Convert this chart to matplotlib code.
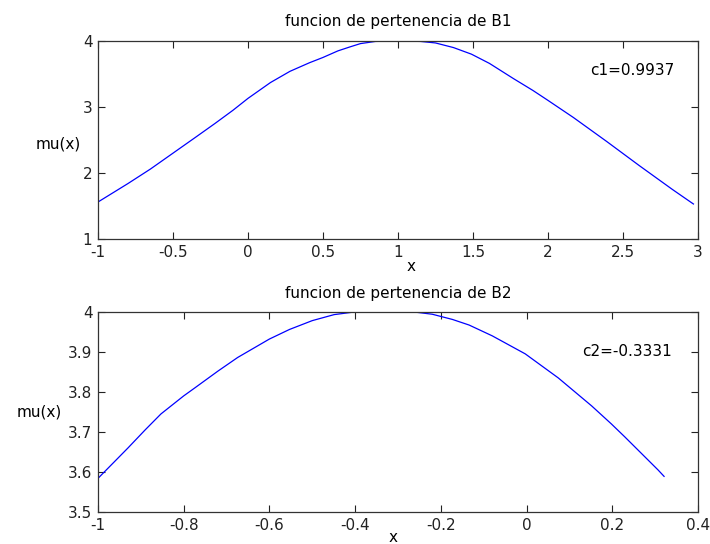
import matplotlib
matplotlib.use('Agg')
import matplotlib.pyplot as plt

# datos (funcion de pertenencia B1)
x1 = [-1.0, -0.8, -0.65, -0.5, -0.35, -0.22, -0.1, 0.0, 0.15, 0.28, 0.41, 0.5, 0.6, 0.68,
      0.75, 0.85, 1.0, 1.15, 1.25, 1.37, 1.49, 1.61, 1.77, 1.9, 2.0, 2.17, 2.39, 2.61, 2.83, 2.97]
mu1 = [1.56, 1.84, 2.06, 2.30, 2.54, 2.75, 2.95, 3.13, 3.37, 3.54, 3.67, 3.75, 3.85, 3.91,
       3.96, 3.993, 4.0, 3.993, 3.97, 3.90, 3.80, 3.66, 3.43, 3.25, 3.10, 2.84, 2.48, 2.11, 1.75, 1.53]

# funcion de pertenencia B2
x2 = [-1.0, -0.953, -0.93, -0.89, -0.853, -0.8, -0.774, -0.72, -0.674, -0.6, -0.553, -0.5,
      -0.449, -0.406, -0.33, -0.258, -0.22, -0.173, -0.134, -0.08, -0.003, 0.074, 0.152,
      0.198, 0.229, 0.276, 0.307, 0.321]
mu2 = [3.584, 3.635, 3.66, 3.705, 3.745, 3.79, 3.81, 3.852, 3.886, 3.932, 3.956, 3.978,
       3.993, 3.999, 4.0, 3.999, 3.994, 3.981, 3.967, 3.94, 3.895, 3.835, 3.765,
       3.72, 3.688, 3.638, 3.605, 3.589]

c1 = 0.9937
c2 = -0.3331

xticks1 = [-1, -0.5, 0, 0.5, 1, 1.5, 2, 2.5, 3]
yticks1 = [1, 2, 3, 4]
xticks2 = [-1, -0.8, -0.6, -0.4, -0.2, 0, 0.2, 0.4]
yticks2 = [3.5, 3.6, 3.7, 3.8, 3.9, 4]

plt.rcParams['font.family'] = ['DejaVu Sans']
fs = 11

fig = plt.figure(figsize=(7.1, 5.44), dpi=100)
ax1 = fig.add_axes([0.138, 0.5607, 0.845, 0.364])
ax2 = fig.add_axes([0.138, 0.0588, 0.845, 0.368])


def estilo(ax, xt, yt, xlim, ylim):
    ax.set_xlim(*xlim)
    ax.set_ylim(*ylim)
    ax.set_xticks(xt)
    ax.set_yticks(yt)
    ax.set_xticklabels([('%g' % v) for v in xt])
    ax.set_yticklabels([('%g' % v) for v in yt])
    ax.tick_params(direction='in', top=True, right=True, length=5, width=0.8,
                   labelsize=fs, pad=4, colors='#222222')
    for s in ax.spines.values():
        s.set_linewidth(0.9)
        s.set_color('#333333')


ax1.plot(x1, mu1, color='blue', linewidth=0.9)
estilo(ax1, xticks1, yticks1, (-1, 3), (1, 4))
ax1.set_title('funcion de pertenencia de B1', fontsize=fs, pad=11)
ax1.set_xlabel('x', fontsize=fs, va='center')
ax1.xaxis.set_label_coords(0.522, -0.141)
ax1.set_ylabel('mu(x)', fontsize=fs, rotation=0, ha='right', va='center')
ax1.yaxis.set_label_coords(-0.028, 0.48)
ax1.text(2.28, 3.55, 'c1=%.4f' % c1, fontsize=fs, va='center')

ax2.plot(x2, mu2, color='blue', linewidth=0.9)
estilo(ax2, xticks2, yticks2, (-1, 0.4), (3.5, 4))
ax2.set_title('funcion de pertenencia de B2', fontsize=fs, pad=10)
ax2.set_xlabel('x', fontsize=fs, va='center')
ax2.xaxis.set_label_coords(0.492, -0.125)
ax2.set_ylabel('mu(x)', fontsize=fs, rotation=0, ha='right', va='center')
ax2.yaxis.set_label_coords(-0.06, 0.5)
ax2.text(0.129, 3.90, 'c2=%.4f' % c2, fontsize=fs, va='center')

fig.savefig('out.png', dpi=100)
